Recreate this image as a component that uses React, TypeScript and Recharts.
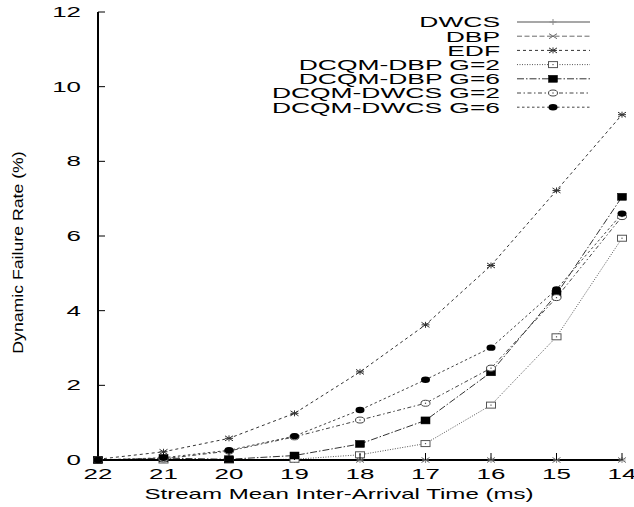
import React from 'react';
import { LineChart, Line, XAxis, YAxis, Legend } from 'recharts';

const xValues = [22, 21, 20, 19, 18, 17, 16, 15, 14];
const dwcs = [0, 0, 0, 0, 0, 0, 0, 0, 0];
const dbp = [0, 0, 0, 0, 0, 0, 0, 0, 0];
const edf = [0.02, 0.22, 0.58, 1.25, 2.36, 3.62, 5.21, 7.22, 9.25];
const dbpG2 = [0, 0, 0, 0.02, 0.14, 0.44, 1.47, 3.3, 5.94];
const dbpG6 = [0, 0.05, 0.02, 0.12, 0.43, 1.06, 2.35, 4.44, 7.05];
const dwcsG2 = [0, 0.03, 0.24, 0.62, 1.07, 1.52, 2.46, 4.35, 6.52];
const dwcsG6 = [0, 0.06, 0.26, 0.64, 1.34, 2.15, 3.01, 4.57, 6.6];
const xTicks = [22, 21, 20, 19, 18, 17, 16, 15, 14];
const yTicks = [0, 2, 4, 6, 8, 10, 12];

const data = xValues.map((x, i) => ({
  x,
  dwcs: dwcs[i],
  dbp: dbp[i],
  edf: edf[i],
  dbpG2: dbpG2[i],
  dbpG6: dbpG6[i],
  dwcsG2: dwcsG2[i],
  dwcsG6: dwcsG6[i],
}));

const FONT = "'Liberation Sans', Arial, Helvetica, sans-serif";

type MarkerKind = 'plus' | 'cross' | 'star' | 'sqOpen' | 'sqFill' | 'cOpen' | 'cFill';

const Marker = ({ kind, cx, cy, color }: { kind: MarkerKind; cx: number; cy: number; color: string }) => {
  if (cx == null || cy == null || isNaN(cx) || isNaN(cy)) return <g />;
  const sw = 1;
  switch (kind) {
    case 'plus':
      return (
        <g stroke={color} strokeWidth={sw}>
          <line x1={cx - 3.5} y1={cy} x2={cx + 3.5} y2={cy} />
          <line x1={cx} y1={cy - 3} x2={cx} y2={cy + 3} />
        </g>
      );
    case 'cross':
      return (
        <g stroke={color} strokeWidth={sw}>
          <line x1={cx - 4} y1={cy - 2.5} x2={cx + 4} y2={cy + 2.5} />
          <line x1={cx - 4} y1={cy + 2.5} x2={cx + 4} y2={cy - 2.5} />
        </g>
      );
    case 'star':
      return (
        <g stroke={color} strokeWidth={sw}>
          <line x1={cx - 4} y1={cy - 2.5} x2={cx + 4} y2={cy + 2.5} />
          <line x1={cx - 4} y1={cy + 2.5} x2={cx + 4} y2={cy - 2.5} />
          <line x1={cx - 4} y1={cy} x2={cx + 4} y2={cy} />
          <line x1={cx} y1={cy - 3} x2={cx} y2={cy + 3} />
        </g>
      );
    case 'sqOpen':
      return (
        <g>
          <rect x={cx - 4.5} y={cy - 3} width={9} height={6} fill="#fff" stroke={color} strokeWidth={sw} />
          <rect x={cx - 0.6} y={cy - 0.6} width={1.2} height={1.2} fill={color} />
        </g>
      );
    case 'sqFill':
      return <rect x={cx - 4.5} y={cy - 3.5} width={9} height={7} fill="#000" stroke="#000" strokeWidth={0.5} />;
    case 'cOpen':
      return (
        <g>
          <ellipse cx={cx} cy={cy} rx={4.5} ry={3} fill="#fff" stroke={color} strokeWidth={sw} />
          <rect x={cx - 0.6} y={cy - 0.6} width={1.2} height={1.2} fill={color} />
        </g>
      );
    case 'cFill':
      return <ellipse cx={cx} cy={cy} rx={4.5} ry={3.2} fill="#000" />;
  }
  return <g />;
};

const seriesDefs: { key: string; name: string; dash: string; color: string; width: number; marker: MarkerKind }[] = [
  { key: 'dwcs', name: 'DWCS', dash: '', color: '#8a8a8a', width: 1.6, marker: 'plus' },
  { key: 'dbp', name: 'DBP', dash: '5 2.5', color: '#6a6a6a', width: 1, marker: 'cross' },
  { key: 'edf', name: 'EDF', dash: '3 3', color: '#333', width: 1, marker: 'star' },
  { key: 'dbpG2', name: 'DCQM-DBP G=2', dash: '1 1.5', color: '#555', width: 1, marker: 'sqOpen' },
  { key: 'dbpG6', name: 'DCQM-DBP G=6', dash: '7 2 1.5 2', color: '#333', width: 1, marker: 'sqFill' },
  { key: 'dwcsG2', name: 'DCQM-DWCS G=2', dash: '4 2.5 1.5 2.5', color: '#444', width: 1, marker: 'cOpen' },
  { key: 'dwcsG6', name: 'DCQM-DWCS G=6', dash: '2.5 2.5', color: '#444', width: 1, marker: 'cFill' },
];

const SText = ({ x, y, sx, size, anchor, children }: any) => (
  <text
    transform={`translate(${x},${y}) scale(${sx},1)`}
    x={0}
    y={0}
    textAnchor={anchor}
    fontSize={size}
    fontFamily={FONT}
    fill="#000"
  >
    {children}
  </text>
);

const BottomTick = (p: any) => (
  <g>
    <line x1={p.x} y1={p.y} x2={p.x} y2={p.y - 7} stroke="#000" strokeWidth={1} />
    <SText x={p.x} y={p.y + 19} sx={1.85} size={14} anchor="middle">
      {p.payload.value}
    </SText>
  </g>
);

const TopTick = (p: any) => (
  <line x1={p.x} y1={p.y} x2={p.x} y2={p.y + 7} stroke="#000" strokeWidth={1} />
);

const LeftTick = (p: any) => (
  <g>
    <line x1={p.x} y1={p.y} x2={p.x + 7} y2={p.y} stroke="#000" strokeWidth={1} />
    <SText x={p.x - 17} y={p.y + 5} sx={1.85} size={14} anchor="end">
      {p.payload.value}
    </SText>
  </g>
);

const RightTick = (p: any) => (
  <line x1={p.x} y1={p.y} x2={p.x - 7} y2={p.y} stroke="#000" strokeWidth={1} />
);

const LegendContent = () => (
  <svg width={634} height={130} style={{ position: 'absolute', left: 0, top: 0, overflow: 'visible' }}>
    {seriesDefs.map((s, i) => {
      const cy = 22 + i * 14.2;
      return (
        <g key={s.key}>
          <SText x={500} y={cy + 5.3} sx={1.76} size={15} anchor="end">
            {s.name}
          </SText>
          <line
            x1={517}
            y1={cy}
            x2={590}
            y2={cy}
            stroke={s.color}
            strokeWidth={s.width}
            strokeDasharray={s.dash || undefined}
          />
          <Marker kind={s.marker} cx={553} cy={cy} color={s.color} />
        </g>
      );
    })}
  </svg>
);

export default function App() {
  return (
    <div style={{ position: 'absolute', left: 0, top: 0, width: 634, height: 507, background: '#fff' }}>
      <LineChart width={634} height={507} data={data} margin={{ top: 12, right: 12, bottom: 0, left: 0 }}>
        <XAxis
          dataKey="x"
          type="number"
          domain={[14, 22]}
          reversed
          ticks={xTicks}
          interval={0}
          height={47}
          tickSize={0}
          tickMargin={0}
          tickLine={false}
          axisLine={{ stroke: '#000', strokeWidth: 2 }}
          tick={BottomTick}
          label={{
            content: (props: any) => {
              const vb = props.viewBox || { x: 98, y: 460, width: 524 };
              return (
                <SText x={vb.x + vb.width / 2 - 21} y={vb.y + 38.5} sx={1.72} size={14} anchor="middle">
                  Stream Mean Inter-Arrival Time (ms)
                </SText>
              );
            },
          }}
        />
        <XAxis
          xAxisId="top"
          dataKey="x"
          type="number"
          orientation="top"
          domain={[14, 22]}
          reversed
          ticks={xTicks}
          interval={0}
          height={0}
          tickSize={0}
          tickMargin={0}
          tickLine={false}
          axisLine={{ stroke: '#000', strokeWidth: 1.3 }}
          tick={TopTick}
        />
        <YAxis
          type="number"
          domain={[0, 12]}
          ticks={yTicks}
          interval={0}
          width={98}
          tickSize={0}
          tickMargin={0}
          tickLine={false}
          axisLine={{ stroke: '#000', strokeWidth: 2 }}
          tick={LeftTick}
          label={{
            content: () => (
              <text
                transform="translate(23,252.5) rotate(-90) scale(1.18,1)"
                x={0}
                y={0}
                textAnchor="middle"
                fontSize={15}
                fontFamily={FONT}
                fill="#000"
              >
                Dynamic Failure Rate (%)
              </text>
            ),
          }}
        />
        <YAxis
          yAxisId="right"
          orientation="right"
          type="number"
          domain={[0, 12]}
          ticks={yTicks}
          interval={0}
          width={0}
          tickSize={0}
          tickMargin={0}
          tickLine={false}
          axisLine={{ stroke: '#000', strokeWidth: 2 }}
          tick={RightTick}
        />
        <Legend
          layout="vertical"
          align="center"
          verticalAlign="middle"
          content={LegendContent}
          wrapperStyle={{ position: 'absolute', left: 0, top: 0, width: 634, height: 130, margin: 0, padding: 0 }}
        />
        {seriesDefs.map((s) => (
          <Line
            key={s.key}
            dataKey={s.key}
            name={s.name}
            type="linear"
            stroke={s.color}
            strokeWidth={s.width}
            strokeDasharray={s.dash || undefined}
            isAnimationActive={false}
            dot={(p: any) => <Marker key={`${s.key}-${p.index}`} kind={s.marker} cx={p.cx} cy={p.cy} color={s.color} />}
            activeDot={false}
          />
        ))}
      </LineChart>
    </div>
  );
}
